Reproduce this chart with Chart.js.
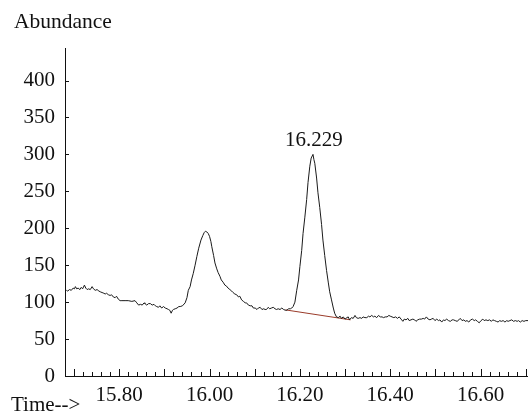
<!DOCTYPE html>
<html>
<head>
<meta charset="utf-8">
<script src="https://cdn.jsdelivr.net/npm/chart.js@4.4.1/dist/chart.umd.min.js"></script>
<style>
html, body { margin: 0; padding: 0; background: #fff; }
#wrap { width: 528px; height: 412px; position: relative; }
</style>
</head>
<body>
<div id="wrap"><canvas id="tic"></canvas></div>
<script>
// retention time (min) and abundance
const times = [
15.683,15.686,15.690,15.694,15.698,15.701,15.703,15.706,15.709,15.713,15.716,15.719,15.723,15.726,15.729,15.732,15.736,15.740,15.743,15.747,
15.751,15.755,15.758,15.762,15.766,15.769,15.772,15.776,15.780,15.783,15.787,15.791,15.794,15.798,15.802,15.806,15.813,15.820,15.828,15.835,
15.839,15.843,15.847,15.851,15.855,15.857,15.861,15.865,15.869,15.873,15.877,15.880,15.883,15.887,15.890,15.894,15.898,15.902,15.906,15.909,
15.912,15.915,15.918,15.920,15.924,15.928,15.932,15.935,15.940,15.946,15.950,15.953,15.957,15.960,15.964,15.968,15.972,15.976,15.981,15.985,
15.988,15.991,15.994,15.997,16.000,16.003,16.005,16.009,16.012,16.016,16.019,16.023,16.026,16.030,16.034,16.037,16.041,16.045,16.049,16.052,
16.056,16.060,16.064,16.067,16.071,16.075,16.079,16.082,16.086,16.090,16.094,16.097,16.101,16.105,16.108,16.112,16.116,16.120,16.123,16.126,
16.130,16.133,16.137,16.141,16.145,16.148,16.152,16.156,16.160,16.164,16.168,16.171,16.175,16.179,16.182,16.185,16.189,16.193,16.197,16.200,
16.204,16.207,16.211,16.215,16.218,16.222,16.225,16.229,16.231,16.233,16.237,16.240,16.244,16.248,16.251,16.255,16.259,16.263,16.266,16.270,
16.274,16.277,16.281,16.285,16.289,16.292,16.296,16.300,16.304,16.307,16.310,16.314,16.318,16.322,16.325,16.329,16.333,16.337,16.340,16.344,
16.348,16.352,16.355,16.359,16.363,16.366,16.370,16.374,16.378,16.382,16.385,16.389,16.393,16.397,16.400,16.404,16.408,16.412,16.416,16.420,
16.424,16.428,16.431,16.435,16.439,16.442,16.446,16.450,16.454,16.457,16.461,16.465,16.469,16.473,16.476,16.480,16.484,16.488,16.491,16.495,
16.499,16.503,16.507,16.510,16.514,16.518,16.521,16.525,16.529,16.533,16.537,16.540,16.544,16.548,16.552,16.555,16.559,16.563,16.566,16.570,
16.574,16.578,16.582,16.586,16.589,16.593,16.597,16.601,16.605,16.608,16.612,16.616,16.620,16.624,16.627,16.631,16.635,16.639,16.642,16.646,
16.650,16.654,16.658,16.661,16.665,16.669,16.673,16.677,16.681,16.684,16.688,16.692,16.696,16.700,16.705
];
const abundance = [
116,115,117,116,119,118,121,118,119,117,120,118,123,119,117,118,117,121,118,116,
117,115,114,113,112,111,112,110,109,110,107,106,108,104,102,102,102,102,101,102,
99,96,97,96,99,98,96,98,98,96,97,95,94,93,95,92,94,92,91,90,
89,85,89,90,91,92,94,94,95,99,106,116,121,130,139,150,162,173,184,190,
194,196,195,193,189,182,175,163,153,145,140,135,130,127,123,122,119,117,115,113,
111,110,107,108,103,101,99,99,96,95,95,92,92,90,92,93,90,91,90,90,
93,91,92,93,91,90,91,90,92,90,89,89,91,91,92,94,100,116,130,148,
170,193,215,239,262,284,295,300,293,288,268,248,228,205,184,163,143,126,114,103,
92,85,80,79,81,78,80,77,79,80,76,79,78,82,79,78,79,78,80,79,
79,81,80,82,80,81,79,82,80,80,79,80,80,82,81,80,79,80,78,80,
77,74,77,76,78,75,76,77,76,74,76,77,77,78,77,80,77,76,77,78,
75,77,75,76,73,76,75,77,75,74,76,76,75,74,76,78,75,76,74,75,
73,76,77,75,76,74,72,75,77,75,76,75,76,74,76,75,74,73,75,74,
75,73,75,74,75,76,74,75,74,75,73,75,74,75,75
];

// integration baseline under the 16.229 peak
const baseTimes = [16.168, 16.312];
const baseValues = [89.5, 76];

const peakTime = 16.229;
const peakValue = 300;
const peakLabel = "16.229";

const xTickValues = [15.80, 16.00, 16.20, 16.40, 16.60];
const yTickValues = [0, 50, 100, 150, 200, 250, 300, 350, 400];

const FONT = "Liberation Serif";
const INK = "#111";

const traceData = times.map((t, i) => ({ x: t, y: abundance[i] }));
const baseData = baseTimes.map((t, i) => ({ x: t, y: baseValues[i] }));

// inward tick marks + free text labels
const decorations = {
  id: "decorations",
  afterDraw(chart) {
    const ctx = chart.ctx;
    const xs = chart.scales.x;
    const ys = chart.scales.y;
    const area = chart.chartArea;
    ctx.save();
    ctx.strokeStyle = INK;
    ctx.lineWidth = 1;
    ctx.beginPath();
    for (let k = 0; k <= 50; k++) {
      const v = 15.70 + k * 0.02;
      const px = Math.round(xs.getPixelForValue(v)) + 0.5;
      const len = (k % 5 === 0) ? 7 : 4;
      ctx.moveTo(px, area.bottom);
      ctx.lineTo(px, area.bottom - len);
    }
    yTickValues.forEach(v => {
      const py = Math.round(ys.getPixelForValue(v)) + 0.5;
      ctx.moveTo(area.left, py);
      ctx.lineTo(area.left + 4, py);
    });
    ctx.stroke();

    ctx.fillStyle = INK;
    ctx.textBaseline = "alphabetic";
    ctx.textAlign = "left";
    ctx.font = "21.5px '" + FONT + "'";
    ctx.fillText("Abundance", 14, 28);
    ctx.font = "21px '" + FONT + "'";
    ctx.fillText("Time-->", 11, 411);
    ctx.textAlign = "center";
    ctx.fillText(peakLabel, xs.getPixelForValue(peakTime) + 1, ys.getPixelForValue(peakValue) - 8);
    ctx.restore();
  }
};

new Chart(document.getElementById("tic"), {
  type: "line",
  data: {
    datasets: [
      {
        data: traceData,
        borderColor: "#1a1a1a",
        borderWidth: 1,
        pointRadius: 0,
        tension: 0,
        fill: false
      },
      {
        data: baseData,
        borderColor: "#9a3b2a",
        borderWidth: 1,
        pointRadius: 0,
        tension: 0,
        fill: false
      }
    ]
  },
  options: {
    responsive: true,
    maintainAspectRatio: false,
    animation: false,
    layout: { padding: { top: 48, left: 0, right: 0, bottom: 0 } },
    plugins: {
      legend: { display: false },
      tooltip: { enabled: false }
    },
    scales: {
      x: {
        type: "linear",
        min: 15.680,
        max: 16.705,
        afterBuildTicks: s => { s.ticks = xTickValues.map(v => ({ value: v })); },
        afterFit: s => { s.height = 36; },
        grid: { display: false, drawTicks: false },
        border: { display: true, color: INK, width: 1 },
        ticks: {
          autoSkip: false,
          maxRotation: 0,
          padding: 7,
          color: INK,
          font: { family: FONT, size: 21 },
          callback: v => Number(v).toFixed(2)
        }
      },
      y: {
        min: 0,
        max: 444,
        afterBuildTicks: s => { s.ticks = yTickValues.map(v => ({ value: v })); },
        afterFit: s => { s.width = 65; },
        grid: { display: false, drawTicks: false },
        border: { display: true, color: INK, width: 1 },
        ticks: {
          autoSkip: false,
          padding: 10,
          color: INK,
          font: { family: FONT, size: 21 },
          callback: v => String(v)
        }
      }
    }
  },
  plugins: [decorations]
});
</script>
</body>
</html>
